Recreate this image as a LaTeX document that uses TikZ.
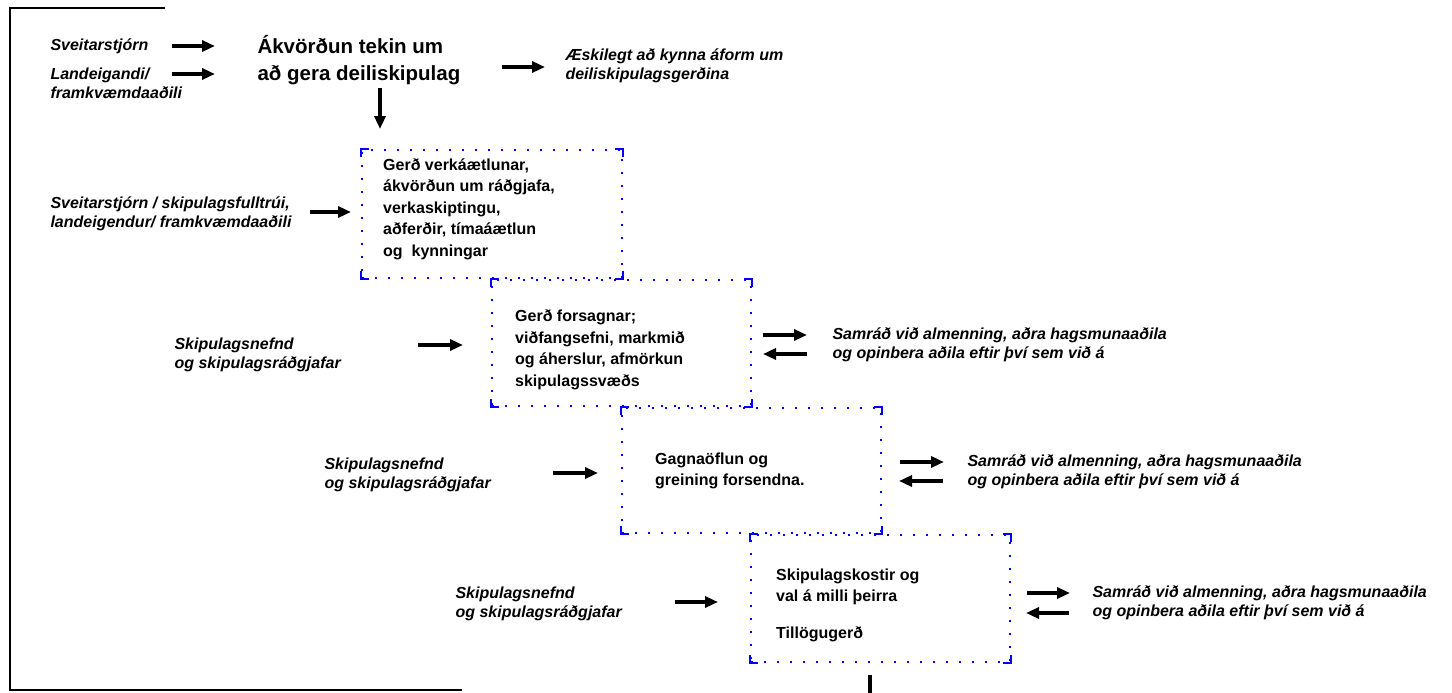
\documentclass[tikz,border=0pt]{standalone}
\usepackage{fontspec}
\setmainfont{Liberation Sans}
\usetikzlibrary{arrows.meta,positioning,calc}
\tikzset{
block/.style = {draw=blue, line width=2pt, dash pattern=on 2pt off 11pt, rectangle, minimum width=259pt, inner sep=0pt},
corner/.style = {draw=blue, line width=2.2pt},
blocktext/.style = {anchor=west, align=left, inner sep=0pt, font=\fontsize{16}{21.5}\selectfont\bfseries},
actor/.style = {anchor=west, align=left, font=\fontsize{16}{19}\selectfont\bfseries\itshape},
headline/.style = {anchor=west, align=left, font=\fontsize{20.5}{27}\selectfont\bfseries},
tmp/.style = {coordinate},
arr/.style = {->, line width=3.4pt},
frame/.style = {line width=1.2pt}
}

\begin{document}
\begin{tikzpicture}[x=1pt, y=-1pt, >={Triangle[length=13pt,width=11pt]}]
  \useasboundingbox (0,0) rectangle (1452,693);
  \draw [frame] (165,8) -- (10,8) -- (10,690) -- (462,690);

  % top row
  \node [actor]    (actor1)  at (47,46)   {Sveitarstjórn};
  \node [actor]    (actor2)  at (47,83.5) {Landeigandi/\\framkvæmdaaðili};
  \node [headline] (decide)  at (254,60)  {Ákvörðun tekin um\\að gera deiliskipulag};
  \node [actor]    (inform)  at (562,66)  {Æskilegt að kynna áform um\\deiliskipulagsgerðina};

  \node [tmp] (tmp1) at (172,46) {};
  \node [tmp] (tmp2) at (215,46) {};
  \node [tmp] (tmp3) at (172,74) {};
  \node [tmp] (tmp4) at (215,74) {};
  \node [tmp] (tmp5) at (502,67) {};
  \node [tmp] (tmp6) at (545,67) {};
  \node [tmp] (tmp7) at (380,88) {};
  \node [tmp] (tmp8) at (380,129) {};

  % stages
  \node [block, minimum width=260pt, minimum height=128pt] (block1) at (492,214) {};
  \node [block, minimum height=126pt] (block2) at (621.5,343) {};
  \node [block, minimum height=125pt] (block3) at (751.5,470.5) {};
  \node [block, minimum height=127pt] (block4) at (880.5,598.5) {};

  \foreach \b in {block1,block2,block3,block4}{
    \draw [corner] ($(\b.north west)+(0,8)$) -- (\b.north west) -- +(8,0);
    \draw [corner] ($(\b.north east)+(0,8)$) -- (\b.north east) -- +(-8,0);
    \draw [corner] ($(\b.south west)+(0,-8)$) -- (\b.south west) -- +(8,0);
    \draw [corner] ($(\b.south east)+(0,-8)$) -- (\b.south east) -- +(-8,0);
  }

  \node [blocktext] (text1) at (383,209)
        {Gerð verkáætlunar,\\ákvörðun um ráðgjafa,\\verkaskiptingu,\\aðferðir, tímaáætlun\\og\ \ kynningar};
  \node [blocktext] (text2) at (515,350)
        {Gerð forsagnar;\\viðfangsefni, markmið\\og áherslur, afmörkun\\skipulagssvæðs};
  \node [blocktext] (text3) at (655,471)
        {Gagnaöflun og\\greining forsendna.};
  \node [blocktext] (text4) at (776,605)
        {Skipulagskostir og\\val á milli þeirra\\[15pt]Tillögugerð};

  % who does what
  \node [actor] (actor3) at (47,213.5)  {Sveitarstjórn / skipulagsfulltrúi,\\landeigendur/ framkvæmdaaðili};
  \node [actor] (actor4) at (171,355)   {Skipulagsnefnd\\og skipulagsráðgjafar};
  \node [actor] (actor5) at (321,474.5) {Skipulagsnefnd\\og skipulagsráðgjafar};
  \node [actor] (actor6) at (452,604)   {Skipulagsnefnd\\og skipulagsráðgjafar};

  \node [tmp] (tmp9)  at (310,212) {};
  \node [tmp] (tmp10) at (351,212) {};
  \node [tmp] (tmp11) at (418,345) {};
  \node [tmp] (tmp12) at (463,345) {};
  \node [tmp] (tmp13) at (553,473) {};
  \node [tmp] (tmp14) at (598,473) {};
  \node [tmp] (tmp15) at (675,602) {};
  \node [tmp] (tmp16) at (718,602) {};

  % consultation
  \node [actor] (consult1) at (829,344.5)  {Samráð við almenning, aðra hagsmunaaðila\\og opinbera aðila eftir því sem við á};
  \node [actor] (consult2) at (964,471.5)  {Samráð við almenning, aðra hagsmunaaðila\\og opinbera aðila eftir því sem við á};
  \node [actor] (consult3) at (1089,603)   {Samráð við almenning, aðra hagsmunaaðila\\og opinbera aðila eftir því sem við á};

  \node [tmp] (tmp17) at (763,335) {};
  \node [tmp] (tmp18) at (807,335) {};
  \node [tmp] (tmp19) at (763,354) {};
  \node [tmp] (tmp20) at (807,354) {};
  \node [tmp] (tmp21) at (900,462) {};
  \node [tmp] (tmp22) at (944,462) {};
  \node [tmp] (tmp23) at (899,481) {};
  \node [tmp] (tmp24) at (943,481) {};
  \node [tmp] (tmp25) at (1027,593) {};
  \node [tmp] (tmp26) at (1070,593) {};
  \node [tmp] (tmp27) at (1026,613) {};
  \node [tmp] (tmp28) at (1069,613) {};
  \node [tmp] (tmp29) at (870,675) {};
  \node [tmp] (tmp30) at (870,693) {};

  \draw [arr] (tmp1) -- (tmp2);
  \draw [arr] (tmp3) -- (tmp4);
  \draw [arr] (tmp5) -- (tmp6);
  \draw [arr] (tmp7) -- (tmp8);
  \draw [arr] (tmp9) -- (tmp10);
  \draw [arr] (tmp11) -- (tmp12);
  \draw [arr] (tmp13) -- (tmp14);
  \draw [arr] (tmp15) -- (tmp16);
  \draw [arr] (tmp17) -- (tmp18);
  \draw [arr] (tmp20) -- (tmp19);
  \draw [arr] (tmp21) -- (tmp22);
  \draw [arr] (tmp24) -- (tmp23);
  \draw [arr] (tmp25) -- (tmp26);
  \draw [arr] (tmp28) -- (tmp27);
  \draw [line width=3.4pt] (tmp29) -- (tmp30);
\end{tikzpicture}
\end{document}
